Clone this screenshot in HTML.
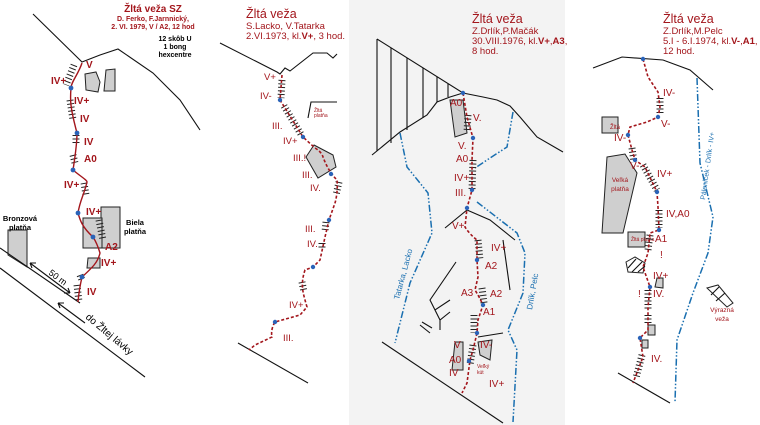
<!DOCTYPE html>
<html><head><meta charset="utf-8"><style>
html,body{margin:0;padding:0;background:#fff}
svg{display:block}
text{font-family:"Liberation Sans",sans-serif}
.r{fill:#a3161c;font-size:10px}
.rb{fill:#a3161c;font-size:10px;font-weight:bold}
.t{fill:#a3161c;font-size:9.5px}
.h{fill:#a3161c;font-size:12.5px}
.k{stroke:#111;stroke-width:1.1;fill:none}
.rt{stroke:#a3161c;stroke-width:1.6;fill:none;stroke-dasharray:3 2}
.rs{stroke:#a3161c;stroke-width:1.4;fill:none}
.tk{stroke:#222;stroke-width:7;fill:none;stroke-dasharray:1 2.5}
.bl{stroke:#1a6fb0;stroke-width:1.5;fill:none;stroke-dasharray:7 2 1.5 2 1.5 2}
.g{fill:#cfcfcf;stroke:#222;stroke-width:1}
.d{fill:#2a63b8}
</style></head><body>
<svg width="760" height="425" viewBox="0 0 760 425" xmlns="http://www.w3.org/2000/svg">
<rect x="349" y="0" width="216" height="425" fill="#f3f3f3"/>

<!-- PANEL 1 -->
<text class="rb" x="153" y="12" text-anchor="middle" style="font-size:10px">Žltá veža SZ</text>
<text class="rb" x="153" y="21" text-anchor="middle" style="font-size:7px">D. Ferko, F.Jarnnický,</text>
<text class="rb" x="153" y="29" text-anchor="middle" style="font-size:7px">2. VI. 1979, V / A2, 12 hod</text>
<text x="175" y="41" text-anchor="middle" style="font-size:7px;font-weight:bold">12 skôb U</text>
<text x="175" y="49" text-anchor="middle" style="font-size:7px;font-weight:bold">1 bong</text>
<text x="175" y="57" text-anchor="middle" style="font-size:7px;font-weight:bold">hexcentre</text>
<path class="k" d="M33 14 L82 62 L100 55 L118 49 L153 73 L180 100 L200 130"/>
<path class="g" d="M85 74 L96 72 L100 82 L98 92 L86 90 Z"/>
<path class="g" d="M106 70 L115 69 L115 91 L104 91 Z"/>
<path class="g" d="M101 207 L120 207 L120 248 L101 248 Z"/>
<path class="g" d="M83 218 L102 218 L102 248 L83 248 Z"/>
<path class="g" d="M88 258 L100 258 L100 268 L87 268 Z"/>
<path class="g" d="M8 230 L27 230 L27 267 L8 255 Z"/>
<text x="20" y="221" text-anchor="middle" style="font-size:7.5px;font-weight:bold">Bronzová</text>
<text x="20" y="230" text-anchor="middle" style="font-size:7.5px;font-weight:bold">platňa</text>
<text x="135" y="225" text-anchor="middle" style="font-size:7.5px;font-weight:bold">Biela</text>
<text x="135" y="234" text-anchor="middle" style="font-size:7.5px;font-weight:bold">platňa</text>
<path class="k" d="M0 248 L80 303 M0 268 L145 377"/>
<path class="k" d="M30 263 L70 293 M30 263 l6 0 M30 263 l2 5 M70 293 l-6 0 M70 293 l-2 -5"/>
<path class="k" d="M58 303 L85 323 M58 303 l6 0 M58 303 l2 5"/>
<text x="48" y="274" transform="rotate(36 48 274)" style="font-size:9px">50 m</text>
<text x="85" y="318" transform="rotate(40 85 318)" style="font-size:10px">do Žltej lávky</text>
<path class="tk" d="M74 65 L66 85 M70 100 L73 120 M76 135 L76 145 M73 155 L75 163 M84 183 L86 195 M99 220 L103 240 M80 275 L82 280 M77 285 L79 302"/>
<path class="rs" d="M82 63 C78 75 71 82 71 88 C70 100 70 107 77 133 C77 145 75 157 73 170 C80 176 87 180 87 182 C84 195 80 200 78 213 C80 220 82 227 93 237 C97 243 100 253 100 253 C98 262 93 267 82 277 C79 290 78 302 78 302"/>
<g class="d"><circle cx="71" cy="88" r="2.4"/><circle cx="77" cy="133" r="2.4"/><circle cx="73" cy="170" r="2.4"/><circle cx="78" cy="213" r="2.4"/><circle cx="93" cy="237" r="2.4"/><circle cx="82" cy="277" r="2.4"/></g>
<text class="rb" x="86" y="68">V</text><text class="rb" x="51" y="84">IV+</text><text class="rb" x="74" y="104">IV+</text>
<text class="rb" x="80" y="122">IV</text><text class="rb" x="84" y="145">IV</text><text class="rb" x="84" y="162">A0</text>
<text class="rb" x="64" y="188">IV+</text><text class="rb" x="86" y="215">IV+</text><text class="rb" x="105" y="250">A2</text>
<text class="rb" x="101" y="266">IV+</text><text class="rb" x="87" y="295">IV</text>

<!-- PANEL 2 -->
<text class="h" x="246" y="18">Žltá veža</text>
<text class="t" x="246" y="29">S.Lacko, V.Tatarka</text>
<text class="t" x="246" y="39">2.VI.1973, kl.<tspan font-weight="bold">V+</tspan>, 3 hod.</text>
<path class="k" d="M220 43 L277 72 L280 74 L285 68 L290 71 L313 53 L327 53 L333 58 L337 54"/>
<path class="g" d="M314 145 L333 155 L336 167 L318 178 L306 157 Z"/>
<path class="k" d="M308 118 L311 102 L337 102"/>
<text x="314" y="112" style="font-size:5px;fill:#a3161c">Žltá</text><text x="314" y="117" style="font-size:5px;fill:#a3161c">platňa</text>
<path class="k" d="M238 343 L308 383"/>
<path class="tk" d="M282 80 L281 98 M284 106 L302 136 M339 182 L336 195 M326 222 L325 232 M322 243 L322 250 M302 282 L304 292"/>
<path class="rt" d="M282 75 L280 100 L303 137 L315 148 C322 152 323 157 323 157 C326 165 330 173 337 180 C338 190 336 200 335 203 L329 220 L325 237 L320 260 L313 267 L305 270 C300 285 303 293 307 307 L300 315 L275 322 C270 330 272 337 272 337 L255 345 L249 350"/>
<g class="d"><circle cx="280" cy="100" r="2.2"/><circle cx="303" cy="137" r="2.2"/><circle cx="331" cy="174" r="2.2"/><circle cx="329" cy="220" r="2.2"/><circle cx="313" cy="267" r="2.2"/><circle cx="275" cy="322" r="2.2"/></g>
<g class="r" style="font-size:9.5px"><text x="264" y="80">V+</text><text x="260" y="99">IV-</text><text x="272" y="129">III.</text><text x="283" y="144">IV+</text>
<text x="293" y="161">III.!</text><text x="302" y="178">III.</text><text x="310" y="191">IV.</text><text x="305" y="232">III.</text><text x="307" y="247">IV.</text><text x="289" y="308">IV+</text><text x="283" y="341">III.</text></g>

<!-- PANEL 3 -->
<text class="h" x="472" y="23">Žltá veža</text>
<text class="t" x="472" y="34">Z.Drlík,P.Mačák</text>
<text class="t" x="472" y="44">30.VIII.1976, kl.<tspan font-weight="bold">V+</tspan>,<tspan font-weight="bold">A3</tspan>,</text>
<text class="t" x="472" y="54">8 hod.</text>
<path class="k" d="M377 39 L463 93 L483 97 L497 100 L510 106 L520 117 L537 137 L563 152"/>
<path class="k" d="M372 155 L400 132 L427 115 L437 102 L450 97 L463 93"/>
<path class="k" d="M377 39 V151 M391 48 V143 M407 58 V130 M423 68 V118 M437 77 V102 M448 84 V97"/>
<path class="g" d="M450 100 L463 100 L467 133 L455 137 Z"/>
<path class="k" d="M445 228 L467 210 L490 220 L515 240 M503 240 L510 290 M456 262 L430 300 L435 310 L450 300 M430 300 L440 320 L450 312 M440 320 L440 330 M422 322 L432 328 M420 325 L430 333 M478 337 L503 333"/>
<path class="g" d="M455 342 L463 342 L463 370 L452 370 Z"/>
<path class="g" d="M478 342 L492 340 L490 360 L480 355 Z"/>
<path class="k" d="M382 342 L503 423"/>
<path class="bl" d="M400 133 L407 167 L428 193 L432 233 L410 283 L395 343"/>
<path class="bl" d="M513 112 L507 147 L487 160 L475 168"/>
<path class="bl" d="M477 202 L517 233 L525 253 L523 293 L508 330 L517 350 L513 422"/>
<text x="0" y="0" transform="translate(399 300) rotate(-75)" style="font-size:8px;fill:#1a6fb0">Tatarka, Lacko</text>
<text x="0" y="0" transform="translate(532 310) rotate(-80)" style="font-size:8px;fill:#1a6fb0">Drlík, Pelc</text>
<path class="tk" d="M468 115 L467 132 M473 160 L472 190 M478 240 L480 260 M482 288 L484 303 M474 315 L474 333 M473 345 L470 365"/>
<path class="rt" d="M463 93 L467 117 L473 138 L472 160 L472 190 L467 208 L465 227 C470 235 477 240 477 240 L477 260 L478 277 L475 290 C480 298 483 305 483 305 L478 320 L477 333 L473 350 L470 360 L467 383 L462 393"/>
<g class="d"><circle cx="463" cy="93" r="2.2"/><circle cx="473" cy="138" r="2.2"/><circle cx="472" cy="190" r="2.2"/><circle cx="467" cy="208" r="2.2"/><circle cx="477" cy="260" r="2.2"/><circle cx="483" cy="305" r="2.2"/><circle cx="477" cy="333" r="2.2"/><circle cx="469" cy="361" r="2.2"/></g>
<g class="r"><text x="450" y="106">A0</text><text x="473" y="121">V.</text><text x="458" y="149">V.</text><text x="456" y="162">A0</text><text x="454" y="181">IV+</text><text x="455" y="196">III.</text>
<text x="452" y="229">V+</text><text x="491" y="251">IV+</text><text x="485" y="269">A2</text><text x="461" y="296">A3</text><text x="490" y="297">A2</text><text x="483" y="315">A1</text>
<text x="454" y="348">V</text><text x="449" y="363">A0</text><text x="449" y="376">IV</text><text x="480" y="348">IV-</text><text x="489" y="387">IV+</text></g>
<text x="477" y="368" style="font-size:5px;fill:#a3161c">Veľký</text><text x="477" y="374" style="font-size:5px;fill:#a3161c">kút</text>

<!-- PANEL 4 -->
<text class="h" x="663" y="23">Žltá veža</text>
<text class="t" x="663" y="34">Z.Drlík,M.Pelc</text>
<text class="t" x="663" y="44">5.I - 6.I.1974, kl.<tspan font-weight="bold">V-</tspan>,<tspan font-weight="bold">A1</tspan>,</text>
<text class="t" x="663" y="54">12 hod.</text>
<path class="k" d="M593 68 L622 57 L663 60 L690 70 L713 90"/>
<path class="g" d="M607 157 L625 154 L637 173 L623 233 L602 233 Z"/>
<path class="g" d="M602 117 L618 117 L618 133 L602 133 Z"/>
<path class="g" d="M628 232 L645 232 L645 247 L628 247 Z"/>
<path class="g" d="M657 278 L663 278 L663 288 L655 287 Z"/>
<path class="g" d="M648 325 L655 325 L655 335 L648 335 Z"/>
<path class="g" d="M642 340 L648 340 L648 348 L642 348 Z"/>
<path d="M626 262 L635 257 L645 263 L643 273 L628 272 Z" fill="#fff" stroke="#222" stroke-width="1"/>
<path d="M628 268 L636 259 M632 272 L642 262 M638 272 L645 266" class="k"/>
<path d="M707 288 L718 285 L733 303 L727 307 Z" fill="#fff" stroke="#222" stroke-width="1"/>
<path d="M711 295 L719 287 M716 301 L725 293" class="k"/>
<text x="610" y="129" style="font-size:6px;fill:#a3161c">Žltá</text>
<text x="631" y="241" style="font-size:5px;fill:#a3161c">Žltá platňa</text>
<text x="620" y="182" text-anchor="middle" style="font-size:6.5px;fill:#a3161c">Veľká</text>
<text x="620" y="191" text-anchor="middle" style="font-size:6.5px;fill:#a3161c">platňa</text>
<text x="722" y="312" text-anchor="middle" style="font-size:6.5px;fill:#a3161c">Výrazná</text>
<text x="722" y="321" text-anchor="middle" style="font-size:6.5px;fill:#a3161c">veža</text>
<path class="k" d="M618 373 L670 403"/>
<path class="bl" d="M697 78 L700 163 L713 217 L708 253 L693 293 L677 340 L675 402"/>
<text x="0" y="0" transform="translate(705 200) rotate(-82)" style="font-size:7px;fill:#1a6fb0">Páleníček - Drlík - IV+</text>
<path class="tk" d="M660 98 L660 115 M632 148 L634 162 M643 165 L657 190 M659 210 L659 228 M650 235 L648 250 M648 290 L648 310 M648 315 L648 325 M642 355 L636 378"/>
<path class="rt" d="M643 59 L648 77 L658 92 L660 107 L658 117 L647 122 L630 127 L628 135 L632 150 L635 160 L645 167 L657 192 L658 207 L659 230 L650 233 L648 253 L643 267 L650 287 L648 307 L648 330 L640 338 L643 357 L638 370 L633 383"/>
<g class="d"><circle cx="643" cy="59" r="2.2"/><circle cx="658" cy="117" r="2.2"/><circle cx="628" cy="135" r="2.2"/><circle cx="635" cy="160" r="2.2"/><circle cx="657" cy="192" r="2.2"/><circle cx="659" cy="230" r="2.2"/><circle cx="650" cy="287" r="2.2"/><circle cx="640" cy="338" r="2.2"/></g>
<g class="r"><text x="663" y="96">IV-</text><text x="661" y="127">V-</text><text x="614" y="141">IV-</text><text x="630" y="169">V-</text><text x="657" y="177">IV+</text>
<text x="666" y="217">IV,A0</text><text x="655" y="242">A1</text><text x="660" y="258">!</text><text x="653" y="279">IV+</text><text x="638" y="297">!</text><text x="653" y="297">IV.</text><text x="651" y="362">IV.</text></g>
</svg>
</body></html>
